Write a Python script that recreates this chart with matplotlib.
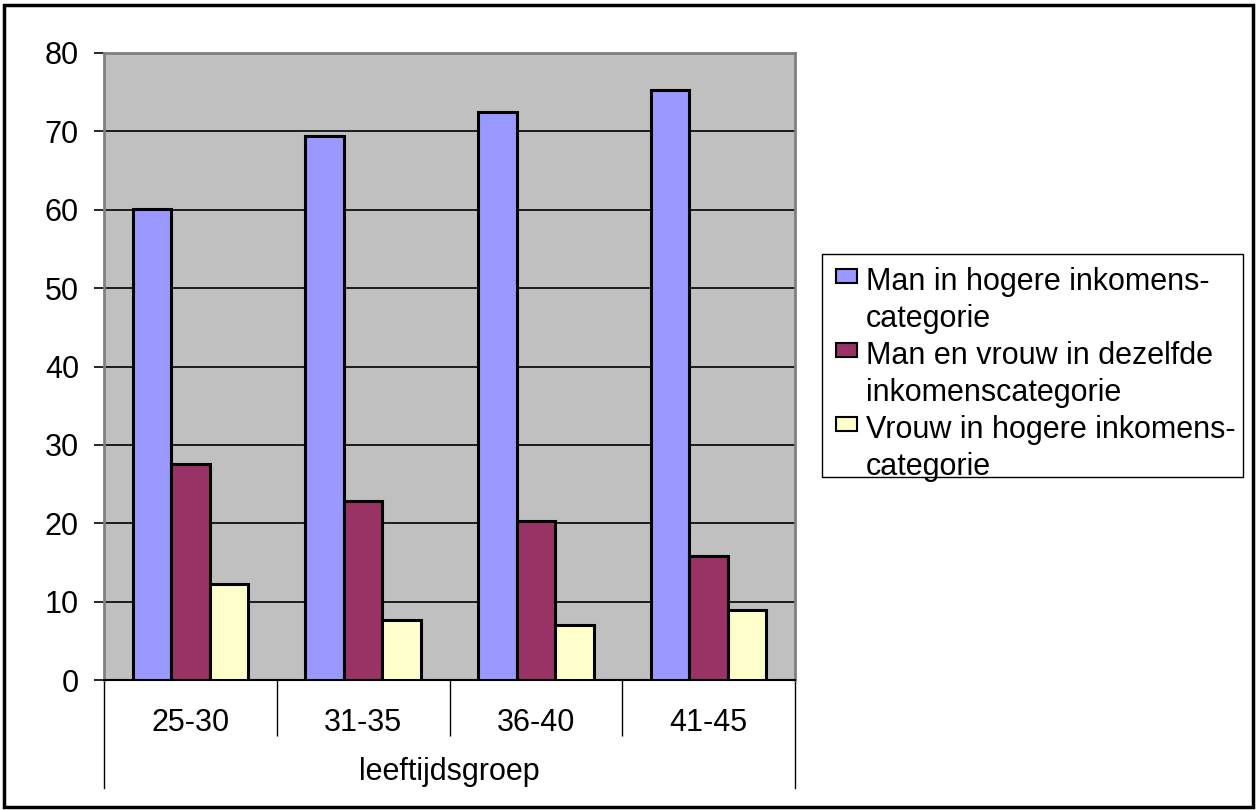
import matplotlib.pyplot as plt
from matplotlib.patches import Rectangle
import numpy as np

plt.rcParams['font.family'] = ['Liberation Sans', 'DejaVu Sans']

groups = ['25-30', '31-35', '36-40', '41-45']
man_hoger = [60.1, 69.4, 72.5, 75.3]
gelijk = [27.5, 22.8, 20.3, 15.8]
vrouw_hoger = [12.3, 7.6, 7.0, 8.9]

series = [
    ('Man in hogere inkomens-\ncategorie', man_hoger, '#9999FF'),
    ('Man en vrouw in dezelfde\ninkomenscategorie', gelijk, '#993366'),
    ('Vrouw in hogere inkomens-\ncategorie', vrouw_hoger, '#FFFFCC'),
]

W, H = 1259, 810


def fx(px):
    return px / W


def fy(py):
    # pixel row (from top) to figure fraction
    return 1 - py / H


fig = plt.figure(figsize=(W / 100, H / 100), dpi=100)
ax = fig.add_axes([fx(104), fy(680), 691 / W, 627 / H])
ax.set_facecolor('#C0C0C0')

x = np.arange(len(groups))
w = 0.223
for i, (label, vals, color) in enumerate(series):
    ax.bar(x + (i - 1) * w, vals, w, color=color, edgecolor='black',
           linewidth=2.2, label=label, zorder=3)

ax.set_xlim(-0.5, len(groups) - 0.5)
ax.set_ylim(0, 80)
ax.set_yticks(range(0, 81, 10))
ax.yaxis.grid(True, color='black', linewidth=1.2, zorder=1)
ax.tick_params(axis='y', labelsize=22, length=7, width=1.2, pad=11)

# category labels and separators below the axis
ax.set_xticks(x)
ax.set_xticklabels(groups, fontsize=22)
ax.tick_params(axis='x', length=0, pad=20)
ax.set_xticks(np.arange(0.5, len(groups) - 1), minor=True)
ax.tick_params(axis='x', which='minor', length=40, width=1, direction='out')
for xb in (0, 1):
    ax.plot([xb, xb], [0, -0.172], transform=ax.transAxes, color='black',
            linewidth=1, clip_on=False)
ax.text(0.5, -0.147, 'leeftijdsgroep', transform=ax.transAxes, fontsize=22,
        ha='center', va='center')

for side in ('top', 'right', 'left'):
    ax.spines[side].set_color('#808080')
    ax.spines[side].set_linewidth(2)
ax.spines['bottom'].set_color('black')
ax.spines['bottom'].set_linewidth(1.5)

# legend built by hand so the key sits on the first line of each entry
line_h = 36.9
for i, (label, vals, color) in enumerate(series):
    base = 290 + 2 * i * line_h
    fig.patches.append(Rectangle((fx(836), fy(base - 7)), 21 / W, 14 / H,
                                 transform=fig.transFigure, facecolor=color,
                                 edgecolor='black', linewidth=1.5))
    for j, part in enumerate(label.split('\n')):
        fig.text(fx(866), fy(base + j * line_h), part, fontsize=22,
                 ha='left', va='baseline')
fig.patches.append(Rectangle((fx(822), fy(477)), 421 / W, 223 / H,
                             transform=fig.transFigure, fill=False,
                             edgecolor='black', linewidth=1))

fig.patches.append(Rectangle((0.003, 0.004), 0.992, 0.99,
                             transform=fig.transFigure, fill=False,
                             edgecolor='black', linewidth=2.5))

plt.savefig('out.png', dpi=100)
